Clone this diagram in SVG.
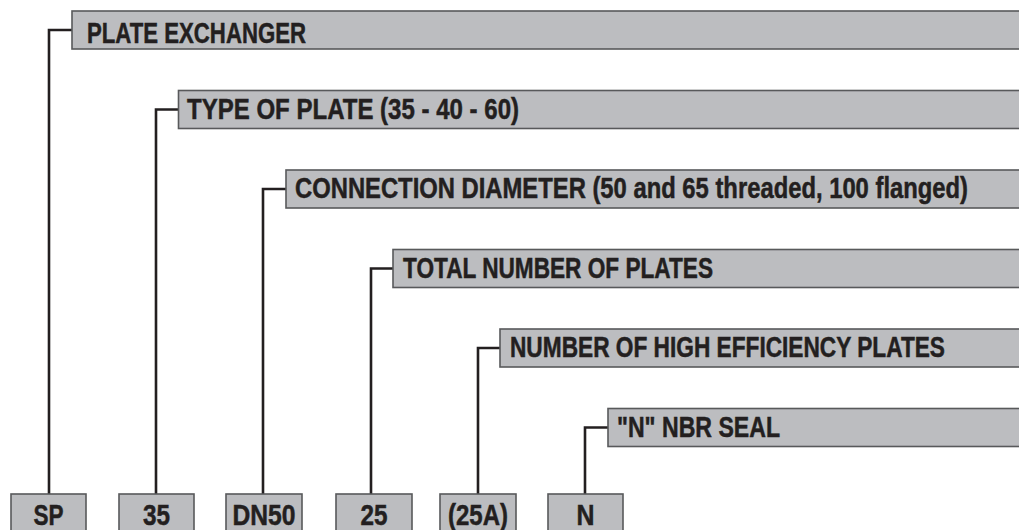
<svg xmlns="http://www.w3.org/2000/svg" width="1019" height="530" viewBox="0 0 1019 530">
<style>
.box{fill:#bcbdc0;stroke:#58595b;stroke-width:1.6}
.lbl{font-family:"Liberation Sans",Arial,sans-serif;font-weight:bold;font-size:29px;fill:#231f20;stroke:#231f20;stroke-width:0.5}
.code{font-family:"Liberation Sans",Arial,sans-serif;font-weight:bold;font-size:29px;fill:#231f20;stroke:#231f20;stroke-width:0.5;text-anchor:middle}
.conn{fill:none;stroke:#231f20;stroke-width:2.6}
</style>
<rect width="1019" height="530" fill="#ffffff"/>
<g id="connectors">
<path class="conn" d="M49 494 V30 H72"/>
<path class="conn" d="M156 494 V109.5 H178.5"/>
<path class="conn" d="M263 494 V189 H286"/>
<path class="conn" d="M371 494 V268.5 H393"/>
<path class="conn" d="M478 494 V348 H500"/>
<path class="conn" d="M585 494 V427.5 H608"/>
</g>
<g id="label-plate-exchanger">
<rect class="box" x="72" y="11" width="948" height="38"/>
<text class="lbl" x="87" y="43" textLength="219" lengthAdjust="spacingAndGlyphs">PLATE EXCHANGER</text>
</g>
<g id="label-type-of-plate">
<rect class="box" x="178.5" y="90.5" width="841.5" height="38"/>
<text class="lbl" x="187" y="119" textLength="332" lengthAdjust="spacingAndGlyphs">TYPE OF PLATE (35 - 40 - 60)</text>
</g>
<g id="label-connection-diameter">
<rect class="box" x="286" y="170" width="734" height="38"/>
<text class="lbl" x="295" y="198" textLength="673" lengthAdjust="spacingAndGlyphs">CONNECTION DIAMETER (50 and 65 threaded, 100 flanged)</text>
</g>
<g id="label-total-plates">
<rect class="box" x="393" y="249.5" width="627" height="38"/>
<text class="lbl" x="403" y="278" textLength="310" lengthAdjust="spacingAndGlyphs">TOTAL NUMBER OF PLATES</text>
</g>
<g id="label-high-efficiency">
<rect class="box" x="500" y="329" width="520" height="38"/>
<text class="lbl" x="510" y="357" textLength="435" lengthAdjust="spacingAndGlyphs">NUMBER OF HIGH EFFICIENCY PLATES</text>
</g>
<g id="label-nbr-seal">
<rect class="box" x="608" y="408.5" width="412" height="38"/>
<text class="lbl" x="617" y="437" textLength="163" lengthAdjust="spacingAndGlyphs">"N" NBR SEAL</text>
</g>
<g id="code-sp">
<rect class="box" x="11" y="494" width="75" height="37"/>
<text class="code" x="48.5" y="525" textLength="30" lengthAdjust="spacingAndGlyphs">SP</text>
</g>
<g id="code-35">
<rect class="box" x="119" y="494" width="75" height="37"/>
<text class="code" x="156.5" y="525" textLength="27" lengthAdjust="spacingAndGlyphs">35</text>
</g>
<g id="code-dn50">
<rect class="box" x="226" y="494" width="76" height="37"/>
<text class="code" x="264" y="525" textLength="63" lengthAdjust="spacingAndGlyphs">DN50</text>
</g>
<g id="code-25">
<rect class="box" x="336" y="494" width="76" height="37"/>
<text class="code" x="374" y="525" textLength="27" lengthAdjust="spacingAndGlyphs">25</text>
</g>
<g id="code-25a">
<rect class="box" x="440" y="494" width="76" height="37"/>
<text class="code" x="478" y="525" textLength="60" lengthAdjust="spacingAndGlyphs">(25A)</text>
</g>
<g id="code-n">
<rect class="box" x="548" y="494" width="75" height="37"/>
<text class="code" x="585.5" y="525" textLength="18" lengthAdjust="spacingAndGlyphs">N</text>
</g>
</svg>
